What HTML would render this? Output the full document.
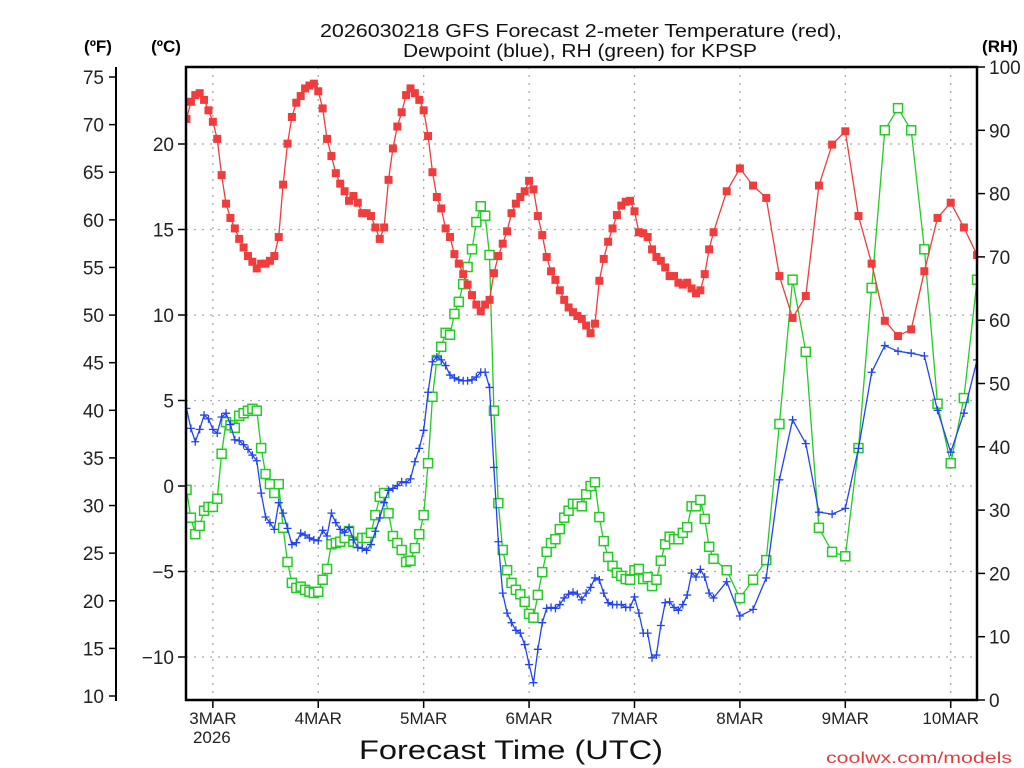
<!DOCTYPE html>
<html><head><meta charset="utf-8"><style>
html,body{margin:0;padding:0;background:#fff;}
svg{display:block;font-family:"Liberation Sans",sans-serif;}
</style></head><body>
<svg id="chart" width="1024" height="768" viewBox="0 0 1024 768" xmlns="http://www.w3.org/2000/svg">
<defs><clipPath id="plotclip"><rect x="186" y="67" width="791" height="633"/></clipPath></defs>
<g font-size="18" fill="#111" text-anchor="middle">
<text x="581" y="37" textLength="522" lengthAdjust="spacingAndGlyphs">2026030218 GFS Forecast 2-meter Temperature (red),</text>
<text x="580" y="57" textLength="354" lengthAdjust="spacingAndGlyphs">Dewpoint (blue), RH (green) for KPSP</text>
</g>
<text x="98" y="52" font-size="17" font-weight="bold" text-anchor="middle">(ºF)</text>
<text x="166" y="52" font-size="17" font-weight="bold" text-anchor="middle">(ºC)</text>
<text x="1000" y="52" font-size="17" font-weight="bold" text-anchor="middle">(RH)</text>
<text x="511" y="759" font-size="27" text-anchor="middle" fill="#111" textLength="304" lengthAdjust="spacingAndGlyphs">Forecast Time (UTC)</text>
<text x="1012" y="763" font-size="16" text-anchor="end" fill="#e83a3a" textLength="186" lengthAdjust="spacingAndGlyphs">coolwx.com/models</text>
<g id="grid"></g>
<g id="axes"></g>
<g id="series" clip-path="url(#plotclip)"></g>
<rect x="186" y="67" width="791" height="633" fill="none" stroke="#000" stroke-width="2.5"/>
</svg>
<script>
// hours since 2026-03-02 18Z
const dayLabels = ["3MAR","4MAR","5MAR","6MAR","7MAR","8MAR","9MAR","10MAR"];
const dayHours = [6,30,54,78,102,126,150,174];
const fTicks = [10,15,20,25,30,35,40,45,50,55,60,65,70,75];
const cTicks = [-10,-5,0,5,10,15,20];
const rhTicks = [0,10,20,30,40,50,60,70,80,90,100];
const tempF = [70.6,72.4,73.1,73.3,72.6,71.5,70.3,68.5,64.7,61.7,60.2,59.1,58.0,57.1,56.2,55.6,54.9,55.4,55.4,55.7,56.2,58.2,63.7,68.0,70.8,72.3,73.0,73.8,74.1,74.3,73.5,71.7,68.5,66.7,64.9,63.8,63.0,62.0,62.5,61.8,60.7,60.7,60.4,59.2,58.0,59.2,64.2,67.5,69.8,71.3,73.1,73.8,73.3,72.6,71.5,68.8,65.0,62.4,61.2,59.1,58.2,56.4,55.4,54.3,53.2,52.1,51.1,50.4,51.1,51.6,54.4,56.2,57.5,58.8,60.7,61.7,62.4,63.0,64.1,63.2,60.4,58.4,56.1,54.6,53.7,52.6,51.6,50.8,50.3,49.9,49.6,48.9,48.1,49.1,53.6,55.9,57.7,59.1,60.5,61.5,61.9,62.0,60.9,58.7,58.6,58.2,56.9,56.1,55.7,55.0,54.1,54.1,53.4,53.2,53.4,52.8,52.3,52.6,54.3,56.9,58.7,
63.0,65.4,63.6,62.3,54.1,49.7,52.0,63.6,67.9,69.3,60.4,55.4,49.4,47.8,48.5,54.6,60.2,61.8,59.2,56.3];
const dewF = [40.2,38.1,36.7,38.0,39.5,39.1,38.0,37.6,39.3,39.7,38.5,36.9,36.8,36.4,35.9,35.3,34.7,31.3,28.8,28.2,27.5,30.3,29.2,27.6,25.9,26.1,27.1,26.9,26.6,26.4,26.3,27.4,26.8,29.2,28.2,27.5,27.2,27.7,26.4,25.6,25.5,25.3,25.9,27.3,28.7,30.3,31.6,31.8,32.1,32.5,32.4,32.8,34.6,36.0,37.9,41.9,45.1,45.6,45.3,44.7,43.7,43.4,43.2,43.1,43.1,43.2,43.5,44.0,44.0,42.4,34.0,26.2,20.8,18.7,17.7,16.9,16.6,15.4,13.3,11.4,14.9,17.7,19.2,19.3,19.2,19.6,20.3,20.7,20.9,20.7,20.1,20.8,21.4,22.4,22.2,20.8,19.8,19.6,19.6,19.6,19.3,19.3,20.4,18.7,16.6,16.6,14.0,14.3,17.4,19.8,19.9,19.3,19.0,19.6,20.6,22.9,22.5,23.3,22.5,20.8,20.3,
22.0,18.4,19.1,22.4,32.7,39.0,36.5,29.3,29.1,29.7,36.0,44.0,46.8,46.2,46.0,45.7,40.0,35.6,39.7,45.3];
const rhPct = [33.2,28.8,26.2,27.5,29.9,30.5,30.5,31.8,38.9,43.9,43.4,43.0,44.9,45.3,45.7,46.0,45.7,39.8,35.7,34.1,32.7,34.1,27.2,21.8,18.5,17.7,17.9,17.4,17.1,16.9,17.1,19.0,20.7,24.6,24.8,25.0,25.6,26.7,25.0,24.8,25.6,25.6,26.4,29.2,32.1,32.7,29.5,25.9,24.8,23.7,21.8,22.0,24.0,26.2,29.2,37.4,47.9,53.7,55.8,58.0,57.7,61.0,62.9,65.7,68.4,71.2,75.5,78.0,76.5,70.3,45.7,31.1,23.7,20.5,18.5,17.4,16.7,15.5,13.6,13.0,16.6,20.2,23.4,24.8,25.4,27.0,28.8,29.9,31.0,31.0,30.6,32.5,33.8,34.4,28.9,25.1,22.6,21.2,20.1,19.6,19.1,19.0,20.5,20.7,19.1,19.4,18.0,19.0,22.0,24.6,25.8,25.4,25.4,26.4,27.3,30.6,30.6,31.6,28.6,24.2,22.3,
20.5,16.1,19.0,22.1,43.6,66.4,55.0,27.2,23.4,22.7,39.8,65.1,90.0,93.5,90.0,71.2,46.8,37.4,47.7,66.4];

function hours(n){const h=[];for(let i=0;i<n;i++){h.push(i<=120?i:120+3*(i-120));}return h;}
const X = h => 186.5 + h*4.392;
const YF = f => 696 - (f-10)*9.523;
const YC = c => 486 - c*17.1;
const YR = r => 700 - r*6.33;
const NS="http://www.w3.org/2000/svg";
function mk(tag,attrs,parent){const e=document.createElementNS(NS,tag);for(const k in attrs)e.setAttribute(k,attrs[k]);parent.appendChild(e);return e;}
const grid=document.getElementById('grid'), axes=document.getElementById('axes'), series=document.getElementById('series');

cTicks.forEach(c=>{
  const l=mk('line',{x1:186,x2:977,y1:YC(c),y2:YC(c),stroke:'#aaa','stroke-width':1.3,'stroke-dasharray':'2,6'},grid);
  
  
  const t=mk('line',{x1:178,x2:186,y1:YC(c),y2:YC(c),stroke:'#000','stroke-width':1.5},axes);
  
  
  const tx=mk('text',{x:174,y:YC(c)+7,'font-size':19,'text-anchor':'end',fill:'#222'},axes);
  tx.textContent=(c<0?'\u2212'+(-c):String(c));
  
  
});
dayHours.forEach((h,i)=>{
  const l=mk('line',{x1:X(h),x2:X(h),y1:67,y2:700,stroke:'#aaa','stroke-width':1.3,'stroke-dasharray':'2,6'},grid);
  
  
  const t=mk('line',{x1:X(h),x2:X(h),y1:700,y2:708,stroke:'#000','stroke-width':1.5},axes);
  
  
  const tx=mk('text',{x:X(h),y:724,'font-size':17,'text-anchor':'middle',fill:'#222'},axes);
  tx.textContent=dayLabels[i];
  
  
});
const yr=mk('text',{x:X(6)-1,y:743,'font-size':17,'text-anchor':'middle',fill:'#222'},axes);
yr.textContent='2026';



const fl=mk('line',{x1:116,x2:116,y1:67,y2:701,stroke:'#000','stroke-width':2},axes);


fTicks.forEach(f=>{
  const t=mk('line',{x1:109,x2:116,y1:YF(f),y2:YF(f),stroke:'#000','stroke-width':1.5},axes);
  
  
  const tx=mk('text',{x:104,y:YF(f)+7,'font-size':19,'text-anchor':'end',fill:'#222'},axes);
  tx.textContent=String(f);
  
  
});
rhTicks.forEach(r=>{
  const t=mk('line',{x1:977,x2:985,y1:YR(r),y2:YR(r),stroke:'#000','stroke-width':1.5},axes);
  
  
  const tx=mk('text',{x:989,y:YR(r)+7,'font-size':19,'text-anchor':'start',fill:'#222'},axes);
  tx.textContent=String(r);
  
  
});

function drawLine(vals,yf,color,name){
  const hs=hours(vals.length);
  const pts=vals.map((v,i)=>X(hs[i]).toFixed(1)+','+yf(v).toFixed(1)).join(' ');
  const pl=mk('polyline',{points:pts,fill:'none',stroke:color,'stroke-width':1.3},series);
  
  
  return hs;
}
// RH (green open squares)
let hs=drawLine(rhPct,YR,'#22cc22','rh');
rhPct.forEach((v,i)=>{
  const r=mk('rect',{x:X(hs[i])-4.5,y:YR(v)-4.5,width:9,height:9,fill:'#fff',stroke:'#22cc22','stroke-width':1.5},series);
  
  
});
// Dewpoint (blue crosses)
hs=drawLine(dewF,YF,'#2244ee','dewpoint');
dewF.forEach((v,i)=>{
  const x=X(hs[i]),y=YF(v);
  const p=mk('path',{d:`M${x-4},${y}H${x+4}M${x},${y-4}V${y+4}`,stroke:'#2244ee','stroke-width':1.3,fill:'none'},series);
  
  
});
// Temperature (red filled squares)
hs=drawLine(tempF,YF,'#f03c3c','temperature');
tempF.forEach((v,i)=>{
  const r=mk('rect',{x:X(hs[i])-4,y:YF(v)-4,width:8,height:8,fill:'#f03c3c'},series);
  
  
});
</script>
</body></html>
